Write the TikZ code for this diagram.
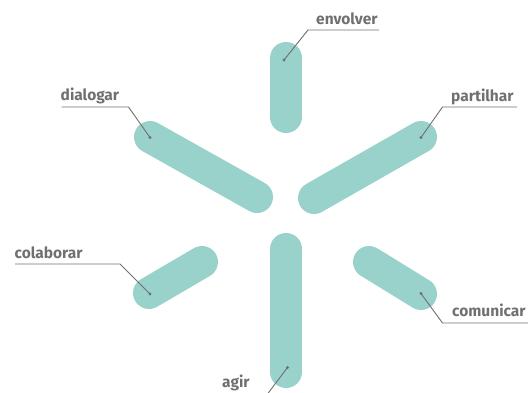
\documentclass[tikz,border=0pt]{standalone}
\usepackage{fontspec}
\setmainfont{Fira Sans}
\definecolor{armteal}{RGB}{152,210,202}
\definecolor{leadgray}{RGB}{112,112,114}
\begin{document}
\begin{tikzpicture}[x=1pt,y=-1pt,
  arm/.style={draw=armteal, line width=32pt, line cap=round},
  leader/.style={draw=leadgray, line width=0.9pt},
  tag/.style={font=\bfseries\fontsize{15.5}{15.5}\selectfont, text=leadgray, inner sep=0pt, anchor=base west},
  pin/.style={fill=leadgray}]
\useasboundingbox (0,0) rectangle (528,393);

% the six arms of the star
\draw[arm] (286,58) -- (286,117);
\draw[arm] (286,249) -- (286,372);
\draw[arm] (150,137) -- (257,197);
\draw[arm] (421,137) -- (314,198);
\draw[arm] (149,293) -- (202,262);
\draw[arm] (369,262) -- (421,294);

% labels
\node[tag] (envolver)  at (316,24.5)  {envolver};
\node[tag] (dialogar)  at (60.5,101)  {dialogar};
\node[tag] (partilhar) at (451,101.5) {partilhar};
\node[tag] (colaborar) at (14.5,258.5){colaborar};
\node[tag] (comunicar) at (452,316)   {comunicar};
\node[tag] (agir)      at (222,387)   {agir};

% pin points on the arms
\coordinate (pEnv) at (284,60);
\coordinate (pDia) at (150,137.5);
\coordinate (pPar) at (421,137.5);
\coordinate (pCol) at (150,294);
\coordinate (pCom) at (421,293.5);
\coordinate (pAgi) at (287.5,367.5);

% bends and ends of the leader lines
\coordinate (kEnv) at (308,30);   \coordinate (eEnv) at (379,30);
\coordinate (kDia) at (128.5,107); \coordinate (eDia) at (61.5,107);
\coordinate (kPar) at (442.5,107); \coordinate (ePar) at (517,107);
\coordinate (kCol) at (120,264);  \coordinate (eCol) at (15,264);
\coordinate (kCom) at (442.5,323); \coordinate (eCom) at (530,323);
\coordinate (eAgi) at (266,396);

\draw[leader] (pEnv) -- (kEnv) -- (eEnv);
\draw[leader] (pDia) -- (kDia) -- (eDia);
\draw[leader] (pPar) -- (kPar) -- (ePar);
\draw[leader] (pCol) -- (kCol) -- (eCol);
\draw[leader] (pCom) -- (kCom) -- (eCom);
\draw[leader] (pAgi) -- (eAgi);

\foreach \p in {pEnv,pDia,pPar,pCol,pCom,pAgi}
  \fill[pin] (\p) circle (1.7);
\end{tikzpicture}
\end{document}
